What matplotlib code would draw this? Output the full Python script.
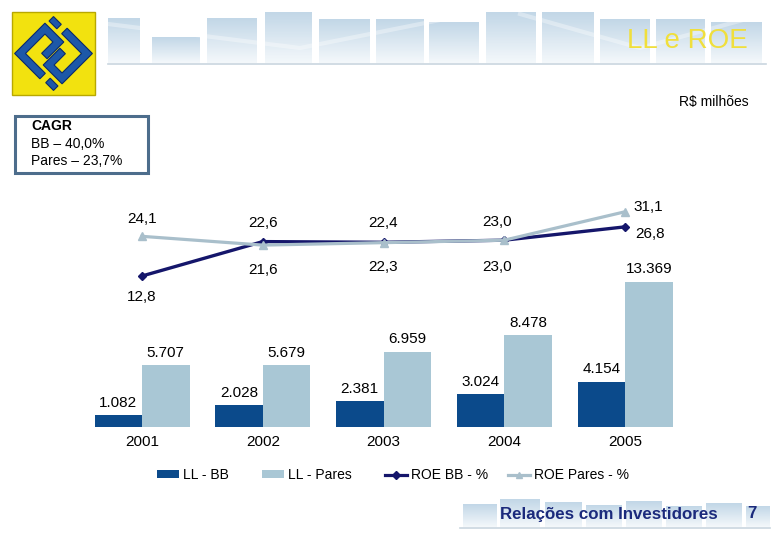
import matplotlib
matplotlib.use('Agg')
import matplotlib.pyplot as plt
import numpy as np
from matplotlib.patches import Rectangle, Polygon, Patch
from matplotlib.lines import Line2D
from matplotlib.colors import LinearSegmentedColormap

plt.rcParams['font.family'] = ['Liberation Sans', 'DejaVu Sans']

# ---------------- data ----------------
years = ['2001', '2002', '2003', '2004', '2005']
ll_bb = [1082, 2028, 2381, 3024, 4154]
ll_pares = [5707, 5679, 6959, 8478, 13369]
roe_bb = [12.8, 22.6, 22.4, 23.0, 26.8]
roe_pares = [24.1, 21.6, 22.3, 23.0, 31.1]
legend_labels = ['LL - BB', 'LL - Pares', 'ROE BB - %', 'ROE Pares - %']
title = 'LL e ROE'
unit_label = 'R$ milhões'
cagr_lines = ['CAGR', 'BB – 40,0%', 'Pares – 23,7%']
footer = 'Relações com Investidores'
page = '7'

# label offsets (pixels) for ROE annotations
bb_offsets = [(0, -21), (0, 19), (0, 19), (-7, 18), (25, -7)]
pares_offsets = [(0, 17), (0, -25), (0, -24), (-7, -27), (23, 5)]

C_BB = '#0b4a8b'
C_PARES = '#a9c7d5'
C_ROE_BB = '#15166b'
C_ROE_PARES = '#a9bfcb'

def fmt_int(v):
    return f"{v:,}".replace(',', '.')

def fmt_dec(v):
    return f"{v:.1f}".replace('.', ',')

W, H = 780, 540
fig = plt.figure(figsize=(7.8, 5.4), dpi=100)
fig.patch.set_facecolor('white')

# ---------------- decoration layer (pixel coords) ----------------
deco = fig.add_axes([0, 0, 1, 1], zorder=0)
deco.set_xlim(0, W)
deco.set_ylim(H, 0)
deco.axis('off')

grad = LinearSegmentedColormap.from_list('g', ['#c2d7e7', '#f4f8fb'])
gimg = np.linspace(0, 1, 64).reshape(-1, 1)
head_bars = [(108, 140, 18), (152, 200, 37), (207, 257, 18), (265, 312, 12),
             (319, 370, 19), (376, 424, 19), (429, 479, 22), (486, 536, 12),
             (542, 594, 12), (600, 650, 19), (656, 705, 19), (711, 762, 22)]
for x0, x1, top in head_bars:
    deco.imshow(gimg, extent=[x0, x1, 63, top], cmap=grad, aspect='auto',
                interpolation='bilinear', zorder=1)
deco.plot([108, 300, 470], [24, 48, 14], color='white', lw=3, alpha=0.35, zorder=2)
deco.plot([520, 640, 765], [14, 48, 14], color='white', lw=3, alpha=0.35, zorder=2)
deco.plot([108, 766], [63.5, 63.5], color='#c9d6df', lw=1.2, zorder=2)

foot_bars = [(463, 497, 504), (500, 540, 499), (545, 582, 502), (586, 622, 505),
             (626, 662, 501), (666, 702, 506), (706, 742, 503), (746, 770, 506)]
for x0, x1, top in foot_bars:
    deco.imshow(gimg, extent=[x0, x1, 527, top], cmap=grad, aspect='auto',
                interpolation='bilinear', zorder=1)
deco.plot([460, 770], [527.5, 527.5], color='#c9d6df', lw=1.2, zorder=2)

# logo
deco.add_patch(Rectangle((12, 12), 83, 83, facecolor='#f2e20f', edgecolor='#b8a800',
                         lw=1.0, zorder=3))
cx, cy, s = 53.5, 53.5, 27.5
ang = np.deg2rad(45)

def tr(pts):
    out = []
    for u, v in pts:
        out.append((cx + s * (u * np.cos(ang) - v * np.sin(ang)),
                    cy - s * (u * np.sin(ang) + v * np.cos(ang))))
    return out

shape1 = [(-1, -0.3), (-1, 1), (0.56, 1), (0.56, 0.03), (-0.3, 0.03), (-0.3, 0.31),
          (0.28, 0.31), (0.28, 0.72), (-0.72, 0.72), (-0.72, -0.3)]
strip1 = [(0.72, 0.55), (0.72, 0.95), (0.95, 0.95), (0.95, 0.55)]
for shp in (shape1, strip1):
    for sign in (1, -1):
        pts = [(sign * u, sign * v) for u, v in shp]
        deco.add_patch(Polygon(tr(pts), closed=True, facecolor='#1d58a8',
                               edgecolor='#0b2b6a', lw=0.8, zorder=4))

deco.text(748, 41, title, ha='right', va='center', fontsize=20, color='#f0df3c', zorder=5)
deco.text(749, 102, unit_label, ha='right', va='center', fontsize=10, color='black')

deco.add_patch(Rectangle((15, 115.5), 133, 57.5, facecolor='white', edgecolor='#4d6d8c',
                         lw=2.2, zorder=3))
deco.text(31, 126, cagr_lines[0], ha='left', va='center', fontsize=10, fontweight='bold', zorder=4)
deco.text(31, 143.5, cagr_lines[1], ha='left', va='center', fontsize=10, zorder=4)
deco.text(31, 161, cagr_lines[2], ha='left', va='center', fontsize=10, zorder=4)

deco.text(500, 514, footer, ha='left', va='center', fontsize=12.2, fontweight='bold',
          color='#1b2a7c', zorder=5)
deco.text(752, 514, page, ha='center', va='center', fontsize=12.2, fontweight='bold',
          color='#1b2a7c', zorder=5)

# ---------------- main chart ----------------
ax = fig.add_axes([80 / W, 113 / H, 620 / W, 237 / H], zorder=2)
ax.patch.set_alpha(0)
x = np.arange(len(years))
w = 47.5 / 120.75
ax.bar(x - w / 2, ll_bb, width=w, color=C_BB, zorder=2)
ax.bar(x + w / 2, ll_pares, width=w, color=C_PARES, zorder=2)
ax.set_xlim(-0.5135, 4.621)
ax.set_ylim(0, 21851)
ax.set_xticks(x, years)
ax.tick_params(axis='x', length=0, pad=6, labelsize=11)
ax.set_yticks([])
for sp in ax.spines.values():
    sp.set_visible(False)

for i in range(len(years)):
    ax.annotate(fmt_int(ll_bb[i]), (x[i] - w / 2, ll_bb[i]), xytext=(0, 12.5),
                textcoords='offset pixels', ha='center', va='center', fontsize=11)
    ax.annotate(fmt_int(ll_pares[i]), (x[i] + w / 2, ll_pares[i]), xytext=(0, 12.5),
                textcoords='offset pixels', ha='center', va='center', fontsize=11)

ax2 = ax.twinx()
ax2.set_ylim(-30.22, 37.30)
ax2.set_yticks([])
for sp in ax2.spines.values():
    sp.set_visible(False)
ax2.plot(x, roe_bb, color=C_ROE_BB, lw=2.4, marker='D', markersize=4.5, zorder=3)
ax2.plot(x, roe_pares, color=C_ROE_PARES, lw=2.3, marker='^', markersize=6, zorder=4)
for i in range(len(years)):
    ax2.annotate(fmt_dec(roe_bb[i]), (x[i], roe_bb[i]), xytext=bb_offsets[i],
                 textcoords='offset pixels', ha='center', va='center', fontsize=11)
    ax2.annotate(fmt_dec(roe_pares[i]), (x[i], roe_pares[i]), xytext=pares_offsets[i],
                 textcoords='offset pixels', ha='center', va='center', fontsize=11)

# ---------------- legend ----------------
handles = [Patch(facecolor=C_BB, edgecolor='none'),
           Patch(facecolor=C_PARES, edgecolor='none'),
           Line2D([], [], color=C_ROE_BB, lw=2.3, marker='D', markersize=4),
           Line2D([], [], color=C_ROE_PARES, lw=2.3, marker='^', markersize=5)]
leg_x = [157, 262, 385, 508]
for h, lab, lx in zip(handles, legend_labels, leg_x):
    fig.legend(handles=[h], labels=[lab], loc='center left',
               bbox_to_anchor=(lx / W, 1 - 475 / H), frameon=False, fontsize=10,
               borderpad=0, borderaxespad=0, handlelength=1.6, handleheight=0.5,
               handletextpad=0.3)

fig.savefig('out.png', dpi=100)
